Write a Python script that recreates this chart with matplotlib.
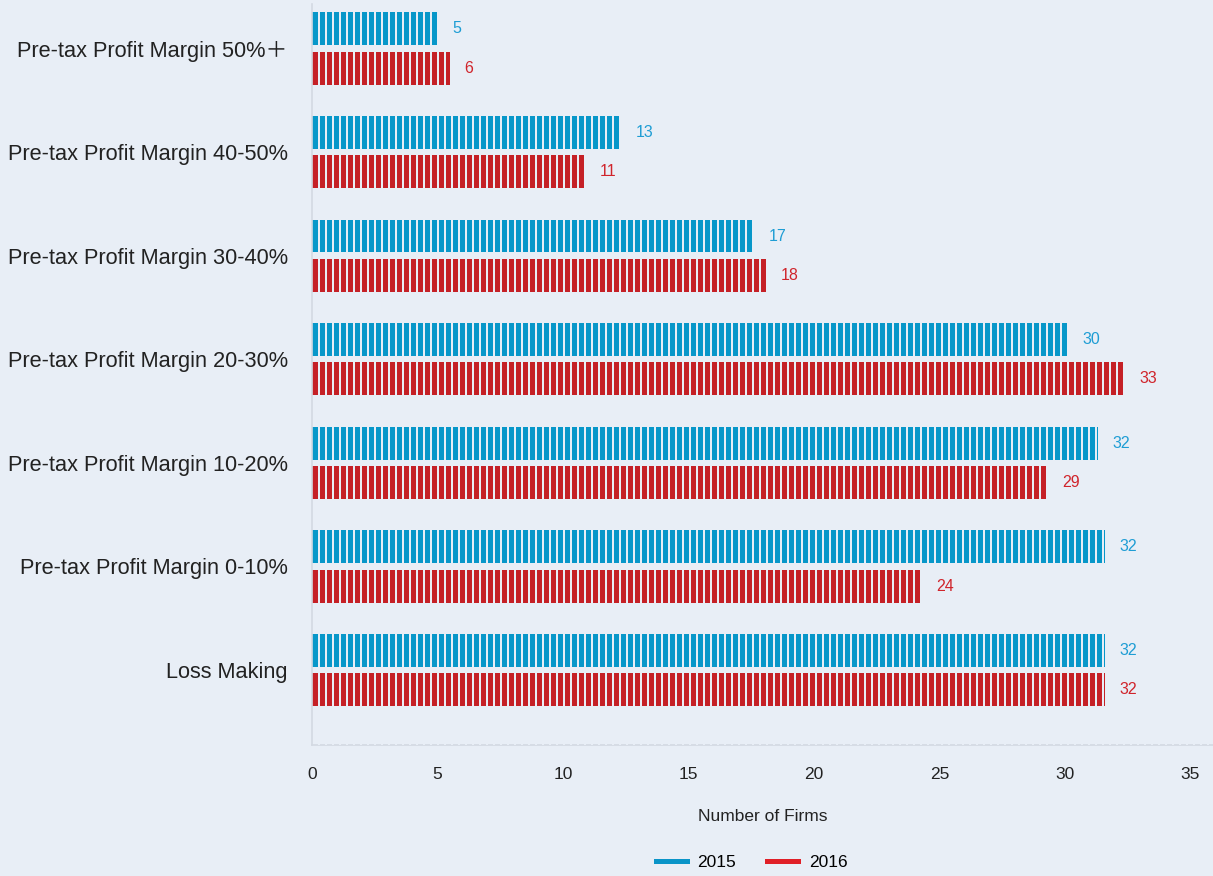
import numpy as np
import matplotlib.pyplot as plt
from matplotlib.lines import Line2D

# categories from bottom to top
categorias = ['Loss Making',
              'Pre-tax Profit Margin 0-10%',
              'Pre-tax Profit Margin 10-20%',
              'Pre-tax Profit Margin 20-30%',
              'Pre-tax Profit Margin 30-40%',
              'Pre-tax Profit Margin 40-50%',
              'Pre-tax Profit Margin 50%\uff0b']

# bar lengths as drawn, and the printed labels
barras_2015 = [31.6, 31.6, 31.3, 30.1, 17.6, 12.3, 5.0]
barras_2016 = [31.6, 24.3, 29.3, 32.4, 18.1, 10.9, 5.5]
rotulos_2015 = ['32', '32', '32', '30', '17', '13', '5']
rotulos_2016 = ['32', '24', '29', '33', '18', '11', '6']

xticks = [0, 5, 10, 15, 20, 25, 30, 35]

fundo = '#e8eef6'
azul = '#0797c9'
vermelho = '#c52026'
azul_txt = '#1e9dd4'
vermelho_txt = '#d0242b'

plt.rcParams['font.family'] = ['Liberation Sans', 'Noto Sans CJK SC', 'DejaVu Sans']

fig = plt.figure(figsize=(12.13, 8.76), dpi=100)
fig.patch.set_facecolor(fundo)
ax = fig.add_axes([312 / 1213, 1 - 745 / 876, 1 - 312 / 1213, (745 - 4) / 876])
ax.set_facecolor(fundo)

y = np.arange(len(categorias))
desloc = 0.19
altura = 0.318

ax.barh(y + desloc, barras_2015, height=altura, color=azul, zorder=2)
ax.barh(y - desloc, barras_2016, height=altura, color=vermelho, zorder=2)

# thin vertical gaps that make the striped look
listras = np.arange(0.267, 36, 0.2789)
ax.vlines(listras, -1, 7, colors=fundo, linewidth=1.45, zorder=3)

# value labels
for i in range(len(categorias)):
    ax.text(barras_2015[i] + 0.58, y[i] + desloc, rotulos_2015[i], color=azul_txt,
            fontsize=11.5, va='center', ha='left', zorder=4)
    ax.text(barras_2016[i] + 0.58, y[i] - desloc, rotulos_2016[i], color=vermelho_txt,
            fontsize=11.5, va='center', ha='left', zorder=4)

ax.set_xlim(0, 901 / 25.1)
ax.set_ylim(-0.724, 6.43)
ax.set_xticks(xticks)
ax.set_xticklabels([str(t) for t in xticks], fontsize=12.5, color='#222222')
ax.set_yticks(y)
ax.set_yticklabels(categorias, fontsize=15.7, color='#222222')
ax.tick_params(axis='both', length=0)
ax.tick_params(axis='x', pad=16)
ax.tick_params(axis='y', pad=17.5)

for lado in ['top', 'right']:
    ax.spines[lado].set_visible(False)
for lado in ['left', 'bottom']:
    ax.spines[lado].set_color('#d3d9e2')
    ax.spines[lado].set_linewidth(1.2)

ax.set_xlabel('Number of Firms', fontsize=12.5, color='#222222', labelpad=19)

handles = [Line2D([0], [0], color='#0a94c8', linewidth=3.6),
           Line2D([0], [0], color='#e01f27', linewidth=3.6)]
fig.legend(handles, ['2015', '2016'], loc='center', bbox_to_anchor=(751.5 / 1213, 1 - 862 / 876),
           ncol=2, frameon=False, fontsize=12.5, handlelength=1.8, columnspacing=1.8,
           handletextpad=0.6)

fig.savefig('out.png', dpi=100, facecolor=fundo)
plt.close(fig)
